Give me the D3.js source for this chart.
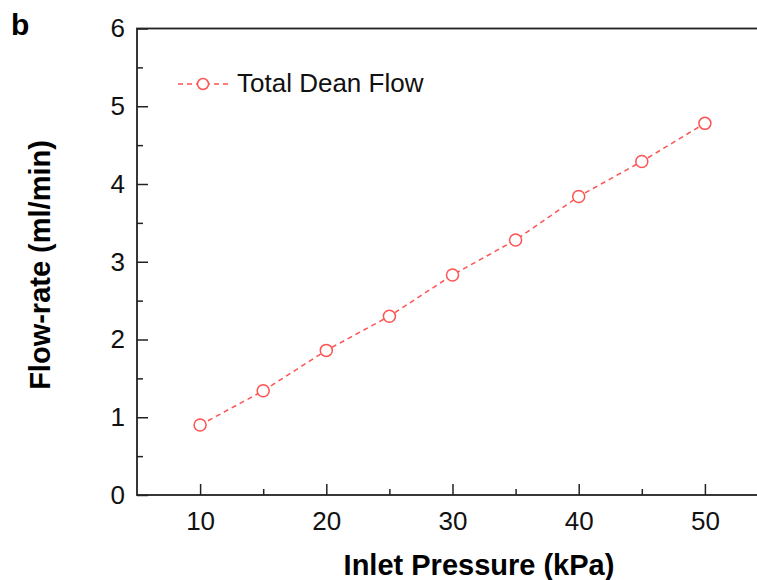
<!DOCTYPE html>
<meta http-equiv="content-type" content="text/html; charset=utf-8" />
<html lang="en">
<head>
<title>Total Dean Flow</title>
<script src="https://d3js.org/d3.v7.min.js"></script>
<style>
body { margin: 0; background: #fff; }
svg { display: block; font-family: "Liberation Sans", Arial, sans-serif; }
</style>
</head>
<body>
<div id="plot"></div>
<script>
// data
var pressure = [10, 15, 20, 25, 30, 35, 40, 45, 50];
var flowRate = [0.90, 1.34, 1.86, 2.30, 2.83, 3.28, 3.84, 4.29, 4.78];
var xMajor = [10, 20, 30, 40, 50];
var xMinor = [15, 25, 35, 45];
var yMajor = [0, 1, 2, 3, 4, 5, 6];
var yMinor = [0.5, 1.5, 2.5, 3.5, 4.5, 5.5];
var seriesName = "Total Dean Flow";

var width = 757, height = 580;
// plot box (right edge runs past the window, as in the figure)
var pLeft = 137, pTop = 28.5, pRight = 768, pBottom = 495;
var red = "#ff5252";

var svg = d3.select("#plot").append("svg")
  .attr("width", width).attr("height", height);

var x = d3.scaleLinear().domain([5, 55]).range([pLeft, pRight]);
var y = d3.scaleLinear().domain([0, 6]).range([pBottom, pTop]);

// minor ticks first, no labels
svg.append("g").attr("transform", "translate(0," + pBottom + ")")
  .call(d3.axisBottom(x).tickValues(xMinor).tickSize(-6).tickFormat(""));
svg.append("g").attr("transform", "translate(" + pLeft + ",0)")
  .call(d3.axisLeft(y).tickValues(yMinor).tickSize(-6).tickFormat(""));

var xa = svg.append("g").attr("transform", "translate(0," + pBottom + ")")
  .call(d3.axisBottom(x).tickValues(xMajor).tickSize(-11).tickPadding(17).tickFormat(d3.format("d")));
var ya = svg.append("g").attr("transform", "translate(" + pLeft + ",0)")
  .call(d3.axisLeft(y).tickValues(yMajor).tickSize(-11).tickPadding(12).tickFormat(d3.format("d")));

svg.selectAll(".domain").remove();
svg.selectAll(".tick line").attr("stroke", "#222").attr("stroke-width", 1.5);
[xa, ya].forEach(function(a){
  a.selectAll("text").attr("font-size", 26).attr("fill", "#111")
    .style("font-family", "'Liberation Sans', Arial, sans-serif");
});

// frame
svg.append("rect")
  .attr("x", pLeft).attr("y", pTop)
  .attr("width", pRight - pLeft).attr("height", pBottom - pTop)
  .attr("fill", "none").attr("stroke", "#222").attr("stroke-width", 1.8);

// series
var pts = pressure.map(function(p, i){ return [p, flowRate[i]]; });
svg.append("path")
  .datum(pts)
  .attr("d", d3.line().x(function(d){ return x(d[0]); }).y(function(d){ return y(d[1]); }))
  .attr("fill", "none").attr("stroke", red).attr("stroke-width", 1.5)
  .attr("stroke-dasharray", "5,4");
svg.selectAll("circle.pt")
  .data(pts)
  .enter().append("circle").attr("class", "pt")
  .attr("cx", function(d){ return x(d[0]); })
  .attr("cy", function(d){ return y(d[1]); })
  .attr("r", 6)
  .attr("fill", "#fff").attr("stroke", red).attr("stroke-width", 1.5);

// legend
var lg = svg.append("g");
lg.append("line").attr("x1", 178).attr("x2", 228).attr("y1", 84).attr("y2", 84)
  .attr("stroke", red).attr("stroke-width", 1.5).attr("stroke-dasharray", "5,4");
lg.append("circle").attr("cx", 203).attr("cy", 84).attr("r", 5.5)
  .attr("fill", "#fff").attr("stroke", red).attr("stroke-width", 1.5);
lg.append("text").attr("x", 237).attr("y", 92).attr("font-size", 26).attr("fill", "#111")
  .text(seriesName);

// titles
svg.append("text").attr("x", 479).attr("y", 575)
  .attr("text-anchor", "middle").attr("font-size", 29).attr("font-weight", "bold")
  .text("Inlet Pressure (kPa)");
svg.append("text")
  .attr("transform", "translate(50,265) rotate(-90)")
  .attr("text-anchor", "middle").attr("font-size", 29).attr("font-weight", "bold")
  .text("Flow-rate (ml/min)");
svg.append("text").attr("x", 11).attr("y", 35)
  .attr("font-size", 30).attr("font-weight", "bold")
  .text("b");
</script>
</body>
</html>
